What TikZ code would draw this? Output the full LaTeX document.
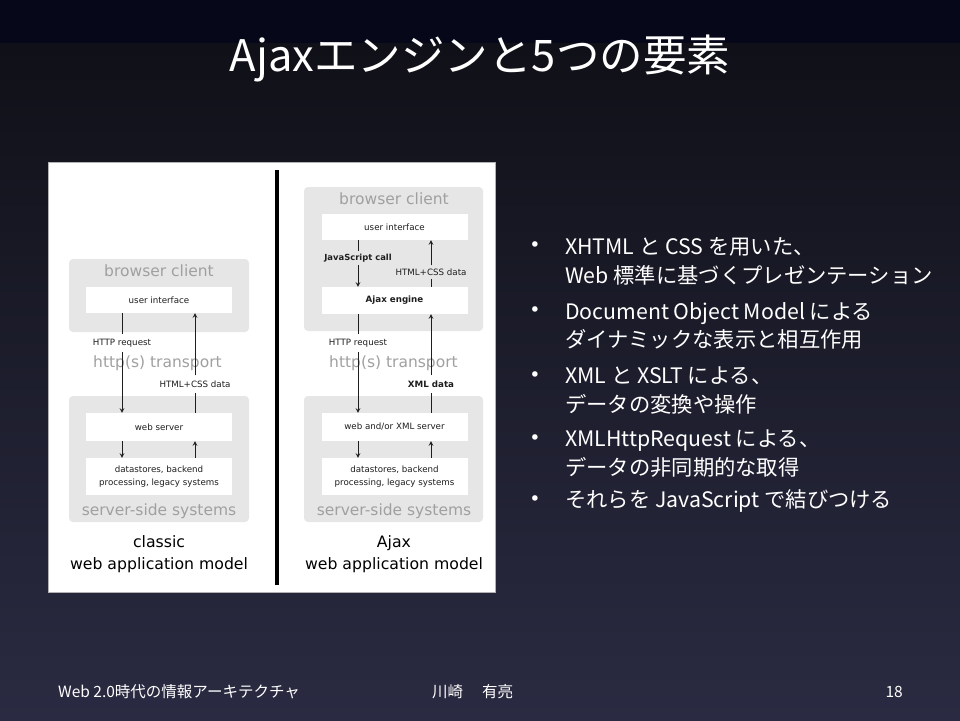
\documentclass[tikz,border=0pt]{standalone}
\usepackage{fontspec}
\setmainfont{DejaVu Sans}
\newfontfamily\jpfont{Noto Sans CJK JP}
\usetikzlibrary{arrows}
\definecolor{navytop}{HTML}{07071A}
\definecolor{bgtop}{HTML}{101018}
\definecolor{bgbot}{HTML}{2A2B42}
\definecolor{boxgray}{HTML}{E6E6E6}
\definecolor{labgray}{HTML}{A0A0A0}
\definecolor{ink}{HTML}{1E1E1E}
\tikzset{
  grp/.style={fill=boxgray, rounded corners=4pt, inner sep=0pt},
  wbox/.style={fill=white, minimum width=146pt, inner sep=0pt, align=center, text=ink,
    font=\fontsize{8.7}{13}\selectfont},
  grplab/.style={text=labgray, inner sep=0pt, font=\fontsize{15.5}{17}\selectfont},
  msg/.style={text=ink, inner xsep=1pt, inner ysep=5pt, font=\fontsize{8.7}{10}\selectfont},
  model/.style={text=black, align=center, inner sep=0pt, font=\fontsize{15.7}{22}\selectfont},
  wtxt/.style={text=white, inner sep=0pt},
  arr/.style={draw=ink, line width=1pt}
}
\begin{document}
\begin{tikzpicture}[>=stealth, x=1pt, y=-1pt]
% nền
\useasboundingbox (0,0) rectangle (960,720);
\fill[navytop] (0,0) rectangle (960,43);
\shade[top color=bgtop, bottom color=bgbot] (0,43) rectangle (960,720);
\node[wtxt, font=\jpfont\fontsize{43.5}{46}\selectfont] (title) at (480,58) {Ajaxエンジンと5つの要素};
% khung hình
\fill[white, draw=gray!60] (48,162) rectangle (495,592);
\draw[line width=4pt, black] (277,170) -- (277,585);
% classic
\node[grp, minimum width=180pt, minimum height=73pt] (bc1) at (159,295.5) {};
\node[grp, minimum width=180pt, minimum height=126pt] (ss1) at (159,459) {};
\node[grplab] at (159,271) {browser client};
\node[grplab] at (159,511) {server-side systems};
\node[wbox, minimum height=26pt] (ui1) at (159,300) {user interface};
\node[wbox, minimum height=28pt] (ws1) at (159,427) {web server};
\node[wbox, minimum height=37pt] (db1) at (159,476.5) {datastores, backend\\processing, legacy systems};
\node[msg] (req1) at (122,343) {HTTP request};
\node[msg] (dat1) at (195,384) {HTML+CSS data};
\node[grplab] at (157.5,363) {http(s) transport};
\node[model] at (159,554) {classic\\web application model};
\draw[arr] (ui1.south -| req1) -- (req1);
\draw[arr,->] (req1) -- (ws1.north -| req1);
\draw[arr] (ws1.north -| dat1) -- (dat1);
\draw[arr,->] (dat1) -- (ui1.south -| dat1);
\draw[arr,->] (ws1.south -| req1) -- (db1.north -| req1);
\draw[arr,->] (db1.north -| dat1) -- (ws1.south -| dat1);
% Ajax
\node[grp, minimum width=179pt, minimum height=144pt] (bc2) at (393.5,259) {};
\node[grp, minimum width=179pt, minimum height=126pt] (ss2) at (393.5,459) {};
\node[grplab] at (394,199) {browser client};
\node[grplab] at (394,511) {server-side systems};
\node[wbox, minimum height=26pt] (ui2) at (394.5,227) {user interface};
\node[wbox, minimum height=27pt, font=\fontsize{8.7}{13}\selectfont\bfseries] (aj) at (394.5,300.5) {Ajax engine};
\node[wbox, minimum height=28pt] (ws2) at (394.5,427) {web and/or XML server};
\node[wbox, minimum height=37pt] (db2) at (394.5,476.5) {datastores, backend\\processing, legacy systems};
\node[msg, font=\fontsize{8.4}{10}\selectfont\bfseries, inner ysep=3pt] (jsc) at (358,258) {JavaScript call};
\node[msg, inner ysep=3pt] (dat2) at (431,272) {HTML+CSS data};
\node[msg] (req2) at (358,343) {HTTP request};
\node[msg, font=\fontsize{8.7}{10}\selectfont\bfseries] (xml) at (431,384) {XML data};
\node[grplab] at (393.5,363) {http(s) transport};
\node[model] at (394,554) {Ajax\\web application model};
\draw[arr] (ui2.south -| jsc) -- (jsc);
\draw[arr,->] (jsc) -- (aj.north -| jsc);
\draw[arr] (aj.north -| dat2) -- (dat2);
\draw[arr,->] (dat2) -- (ui2.south -| dat2);
\draw[arr] (aj.south -| req2) -- (req2);
\draw[arr,->] (req2) -- (ws2.north -| req2);
\draw[arr] (ws2.north -| xml) -- (xml);
\draw[arr,->] (xml) -- (aj.south -| xml);
\draw[arr,->] (ws2.south -| req2) -- (db2.north -| req2);
\draw[arr,->] (db2.north -| xml) -- (ws2.south -| xml);
% danh sách
\tikzset{item/.style={wtxt, anchor=west, align=left, font=\jpfont\fontsize{21.3}{28.5}\selectfont},
  bul/.style={wtxt, font=\fontsize{19}{20}\selectfont}}
\node[item] (p1) at (565,261.5) {XHTML と CSS を用いた、\\Web 標準に基づくプレゼンテーション};
\node[item] (p2) at (565,326) {Document Object Model による\\ダイナミックな表示と相互作用};
\node[item] (p3) at (565,390.5) {XML と XSLT による、\\データの変換や操作};
\node[item] (p4) at (565,453.5) {XMLHttpRequest による、\\データの非同期的な取得};
\node[item] (p5) at (565,501) {それらを JavaScript で結びつける};
\foreach \y in {247,312,377,440,501}
  \node[bul] at (535,\y) {•};
% chân trang
\node[wtxt, anchor=west, font=\jpfont\fontsize{15.5}{17}\selectfont] (foot1) at (58,692) {Web 2.0時代の情報アーキテクチャ};
\node[wtxt, anchor=west, font=\jpfont\fontsize{15.5}{17}\selectfont] (foot2) at (432,692) {川崎　 有亮};
\node[wtxt, anchor=east, font=\jpfont\fontsize{15.5}{17}\selectfont] (foot3) at (903,692) {18};
\end{tikzpicture}
\end{document}
